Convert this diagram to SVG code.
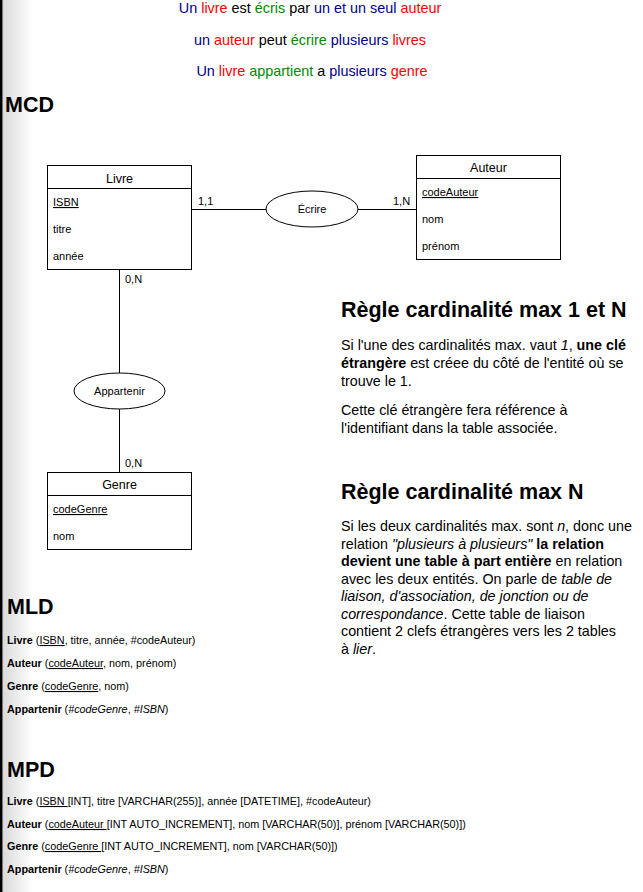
<svg xmlns="http://www.w3.org/2000/svg" width="643" height="892" viewBox="0 0 643 892">
<defs>
<linearGradient id="edge" x1="0" y1="0" x2="1" y2="0">
<stop offset="0" stop-color="#d9d9d9"/>
<stop offset="1" stop-color="#ffffff"/>
</linearGradient>
</defs>
<style>
text{font-family:"Liberation Sans",Arial,Helvetica,sans-serif;fill:#000}
.ent{fill:#fff;stroke:#000;stroke-width:1}
.sep{stroke:#000;stroke-width:1}
.rel{fill:#fff;stroke:#000;stroke-width:1}
.con{stroke:#000;stroke-width:1;fill:none}
.t{font-size:12.5px;text-anchor:middle}
.a{font-size:11px}
.c{font-size:11px}
.l{font-size:11px;text-anchor:middle}
.top{font-size:14.4px;text-anchor:middle}
.b{fill:#00008b}.r{fill:#ff0000}.g{fill:#008a00}
.h{font-size:21.5px;font-weight:bold}
.p{font-size:14.3px}
.m{font-size:10.8px}
.u{text-decoration:underline}
.bo{font-weight:bold}
.i{font-style:italic}
</style>
<rect x="0" y="0" width="643" height="892" fill="#fff"/>
<rect x="2.5" y="0" width="30" height="892" fill="url(#edge)"/>
<rect x="0" y="0" width="2.5" height="892" fill="#000"/>

<g id="phrases">
<text class="top" x="310" y="13"><tspan class="b">Un</tspan> <tspan class="r">livre</tspan> est <tspan class="g">écris</tspan> par <tspan class="b">un et un seul</tspan> <tspan class="r">auteur</tspan></text>
<text class="top" x="310" y="45"><tspan class="b">un</tspan> <tspan class="r">auteur</tspan> peut <tspan class="g">écrire</tspan> <tspan class="b">plusieurs</tspan> <tspan class="r">livres</tspan></text>
<text class="top" x="312" y="76"><tspan class="b">Un</tspan> <tspan class="r">livre</tspan> <tspan class="g">appartient</tspan> a <tspan class="b">plusieurs</tspan> <tspan class="r">genre</tspan></text>
</g>

<text class="h" x="5" y="112">MCD</text>

<g id="connectors">
<line class="con" x1="191.5" y1="209.5" x2="266" y2="209.5"/>
<line class="con" x1="358" y1="209.5" x2="416.5" y2="209.5"/>
<line class="con" x1="119.5" y1="269.5" x2="119.5" y2="373"/>
<line class="con" x1="119.5" y1="409" x2="119.5" y2="472.5"/>
<text class="c" x="198" y="205">1,1</text>
<text class="c" x="393" y="205">1,N</text>
<text class="c" x="125" y="283">0,N</text>
<text class="c" x="125" y="467">0,N</text>
</g>

<g id="livre">
<rect class="ent" x="47.5" y="165.5" width="144" height="104"/>
<line class="sep" x1="47.5" y1="188.5" x2="191.5" y2="188.5"/>
<text class="t" x="119.5" y="182.5">Livre</text>
<text class="a u" x="53" y="206">ISBN</text>
<text class="a" x="53" y="233">titre</text>
<text class="a" x="53" y="260">année</text>
</g>

<g id="auteur">
<rect class="ent" x="416.5" y="155.5" width="144" height="104"/>
<line class="sep" x1="416.5" y1="178.5" x2="560.5" y2="178.5"/>
<text class="t" x="488.5" y="172">Auteur</text>
<text class="a u" x="422" y="196">codeAuteur</text>
<text class="a" x="422" y="223">nom</text>
<text class="a" x="422" y="250">prénom</text>
</g>

<g id="genre">
<rect class="ent" x="47.5" y="472.5" width="144" height="77"/>
<line class="sep" x1="47.5" y1="495.5" x2="191.5" y2="495.5"/>
<text class="t" x="119.5" y="489">Genre</text>
<text class="a u" x="53" y="513">codeGenre</text>
<text class="a" x="53" y="540">nom</text>
</g>

<g id="ecrire">
<ellipse class="rel" cx="312" cy="209" rx="46" ry="18"/>
<text class="l" x="312" y="213">Écrire</text>
</g>

<g id="appartenir">
<ellipse class="rel" cx="119.5" cy="391" rx="45.5" ry="18"/>
<text class="l" x="119.5" y="395">Appartenir</text>
</g>

<g id="regle1">
<text class="h" x="341" y="317">Règle cardinalité max 1 et N</text>
<text class="p" x="341" y="350">Si l'une des cardinalités max. vaut <tspan class="i">1</tspan>, <tspan class="bo">une clé</tspan></text>
<text class="p" x="341" y="368"><tspan class="bo">étrangère</tspan> est créee du côté de l'entité où se</text>
<text class="p" x="341" y="386">trouve le 1.</text>
<text class="p" x="341" y="415">Cette clé étrangère fera référence à</text>
<text class="p" x="341" y="432.5">l'identifiant dans la table associée.</text>
</g>

<g id="regle2">
<text class="h" x="341" y="498.5">Règle cardinalité max N</text>
<text class="p" x="341" y="531">Si les deux cardinalités max. sont <tspan class="i">n</tspan>, donc une</text>
<text class="p" x="341" y="548.5">relation <tspan class="i">"plusieurs à plusieurs"</tspan> <tspan class="bo">la relation</tspan></text>
<text class="p" x="341" y="566"><tspan class="bo">devient une table à part entière</tspan> en relation</text>
<text class="p" x="341" y="583.5">avec les deux entités. On parle de <tspan class="i">table de</tspan></text>
<text class="p i" x="341" y="601">liaison, d'association, de jonction ou de</text>
<text class="p" x="341" y="618.5"><tspan class="i">correspondance</tspan>. Cette table de liaison</text>
<text class="p" x="341" y="636">contient 2 clefs étrangères vers les 2 tables</text>
<text class="p" x="341" y="653.5">à <tspan class="i">lier</tspan>.</text>
</g>

<g id="mld">
<text class="h" x="7" y="614">MLD</text>
<text class="m" x="7" y="644"><tspan class="bo">Livre</tspan> (<tspan class="u">ISBN</tspan>, titre, année, #codeAuteur)</text>
<text class="m" x="7" y="667"><tspan class="bo">Auteur</tspan> (<tspan class="u">codeAuteur</tspan>, nom, prénom)</text>
<text class="m" x="7" y="690"><tspan class="bo">Genre</tspan> (<tspan class="u">codeGenre</tspan>, nom)</text>
<text class="m" x="7" y="712.5"><tspan class="bo">Appartenir</tspan> (<tspan class="i">#codeGenre</tspan>, <tspan class="i">#ISBN</tspan>)</text>
</g>

<g id="mpd">
<text class="h" x="7" y="777">MPD</text>
<text class="m" x="7" y="805"><tspan class="bo">Livre</tspan> (<tspan class="u">ISBN </tspan>[INT], titre [VARCHAR(255)], année [DATETIME], #codeAuteur)</text>
<text class="m" x="7" y="828"><tspan class="bo">Auteur</tspan> (<tspan class="u">codeAuteur </tspan>[INT AUTO_INCREMENT], nom [VARCHAR(50)], prénom [VARCHAR(50)])</text>
<text class="m" x="7" y="850"><tspan class="bo">Genre</tspan> (<tspan class="u">codeGenre </tspan>[INT AUTO_INCREMENT], nom [VARCHAR(50)])</text>
<text class="m" x="7" y="873"><tspan class="bo">Appartenir</tspan> (<tspan class="i">#codeGenre</tspan>, <tspan class="i">#ISBN</tspan>)</text>
</g>
</svg>
